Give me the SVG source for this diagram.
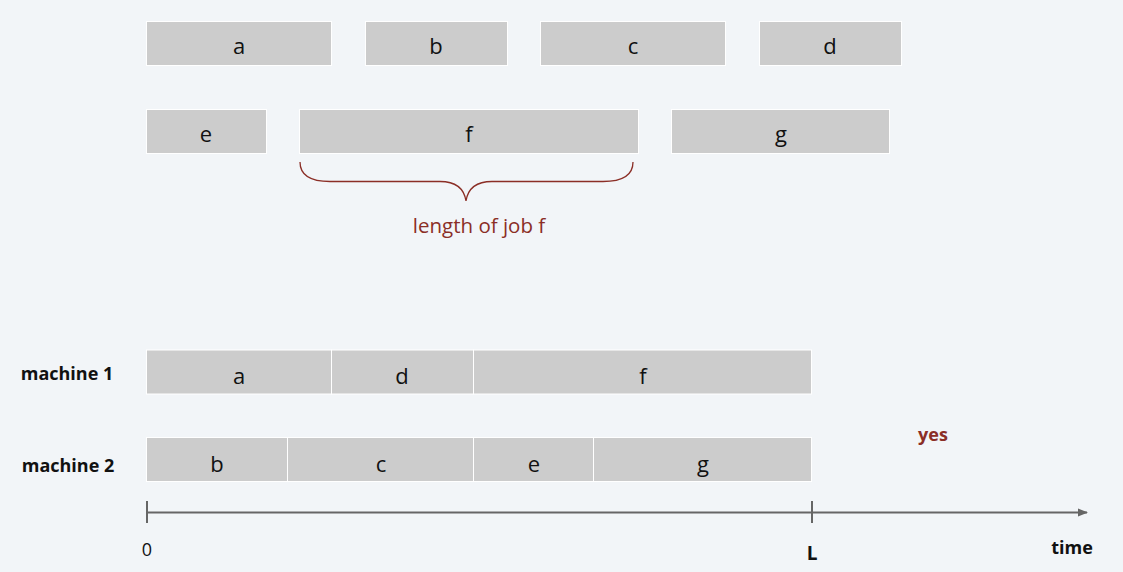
<svg xmlns="http://www.w3.org/2000/svg" width="1123" height="572" viewBox="0 0 1123 572">
<defs>
<style>
.job rect{fill:#cccccc;stroke:#ffffff;stroke-width:1}
.job text{font-family:"Open Sans","Noto Sans",sans-serif;font-size:22px;fill:#111;text-anchor:middle}
.lbl{font-family:"Open Sans","Noto Sans",sans-serif;font-weight:bold;font-size:18px;fill:#111;text-anchor:middle}
.red{fill:#8b2e26}
.axis{stroke:#666;stroke-width:2;fill:none}
</style>
<marker id="ah" viewBox="0 0 10 10" refX="9" refY="5" markerWidth="5" markerHeight="5" orient="auto"><path d="M0,1 L10,5 L0,9 Z" fill="#666"/></marker>
</defs>
<rect width="1123" height="572" fill="#f2f5f8"/>
<g id="job-a" class="job"><rect x="146.5" y="21.5" width="185" height="44"/><text x="239" y="54">a</text></g>
<g id="job-b" class="job"><rect x="365.5" y="21.5" width="142" height="44"/><text x="436" y="54">b</text></g>
<g id="job-c" class="job"><rect x="540.5" y="21.5" width="185" height="44"/><text x="633" y="54">c</text></g>
<g id="job-d" class="job"><rect x="759.5" y="21.5" width="142" height="44"/><text x="830" y="54">d</text></g>
<g id="job-e" class="job"><rect x="146.5" y="109.5" width="120" height="44"/><text x="206" y="142">e</text></g>
<g id="job-f" class="job"><rect x="299.5" y="109.5" width="339" height="44"/><text x="469" y="142">f</text></g>
<g id="job-g" class="job"><rect x="671.5" y="109.5" width="218" height="44"/><text x="781" y="142">g</text></g>
<g id="brace"><path d="M300,162 C300,175 310,181.5 330,181.5 L440,181.5 C455,181.5 464,188 466,201 C468,188 477,181.5 492,181.5 L603,181.5 C623,181.5 633,175 633,162" fill="none" stroke="#8b2e26" stroke-width="1.3"/>
<text x="479" y="233" class="red" style="font-family:'Open Sans','Noto Sans',sans-serif;font-size:20.5px" text-anchor="middle">length of job f</text></g>
<text x="67" y="380" class="lbl">machine 1</text>
<text x="68" y="472" class="lbl">machine 2</text>
<g id="m1-a" class="job"><rect x="146.5" y="350" width="185" height="44"/><text x="239" y="384">a</text></g>
<g id="m1-d" class="job"><rect x="331.5" y="350" width="142" height="44"/><text x="402" y="384">d</text></g>
<g id="m1-f" class="job"><rect x="473.5" y="350" width="338" height="44"/><text x="643" y="384">f</text></g>
<g id="m2-b" class="job"><rect x="146.5" y="437.5" width="141" height="44"/><text x="217" y="472">b</text></g>
<g id="m2-c" class="job"><rect x="287.5" y="437.5" width="186" height="44"/><text x="381" y="472">c</text></g>
<g id="m2-e" class="job"><rect x="473.5" y="437.5" width="120" height="44"/><text x="534" y="472">e</text></g>
<g id="m2-g" class="job"><rect x="593.5" y="437.5" width="218" height="44"/><text x="703" y="472">g</text></g>
<text x="933" y="441" class="lbl red">yes</text>
<g id="connectors">
<line class="axis" x1="147" y1="512.5" x2="1087" y2="512.5" marker-end="url(#ah)"/>
<line class="axis" x1="147" y1="501" x2="147" y2="523"/>
<line class="axis" x1="812" y1="501" x2="812" y2="523"/>
</g>
<text x="147" y="556" style="font-family:'Open Sans','Noto Sans',sans-serif;font-size:18px" fill="#111" text-anchor="middle">0</text>
<text x="812" y="560" class="lbl" style="font-size:19px">L</text>
<text x="1072" y="554" class="lbl">time</text>
</svg>
